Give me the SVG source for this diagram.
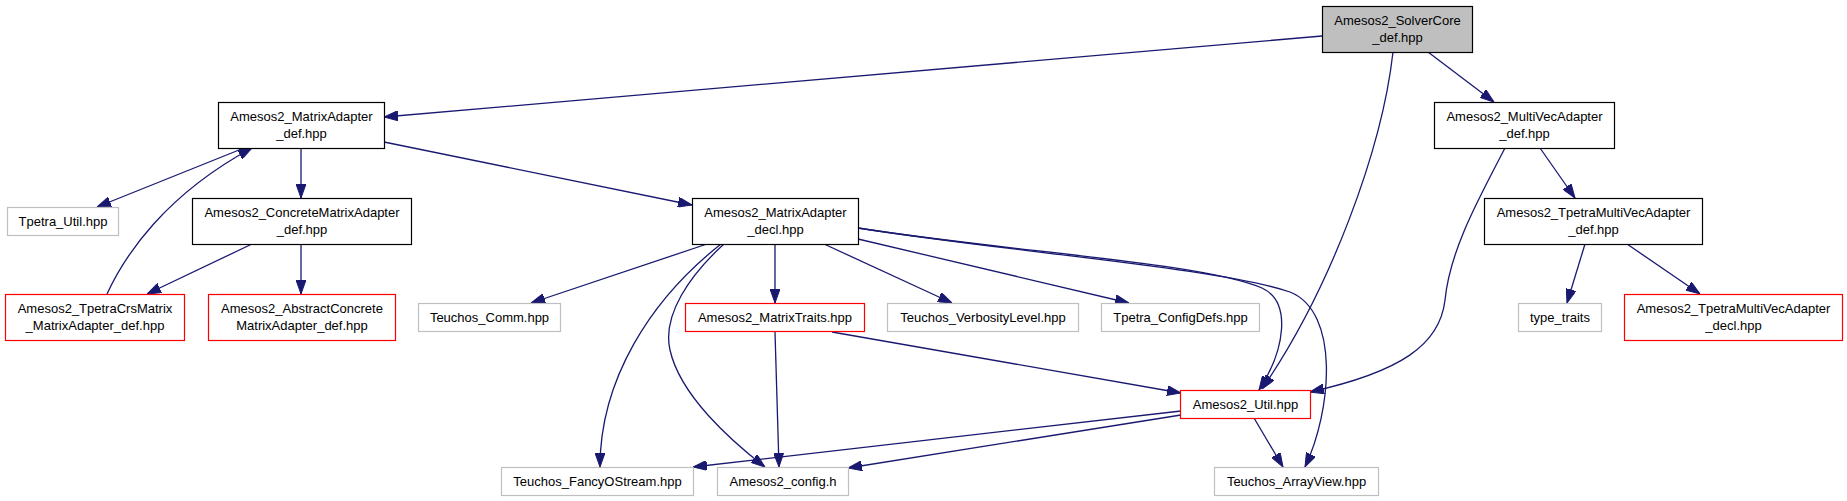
<svg xmlns="http://www.w3.org/2000/svg" width="1847" height="501" viewBox="0 0 1847 501">
<style>
  .n rect { fill: #ffffff; stroke: #000000; stroke-width: 1.2; }
  .n.root rect { fill: #bfbfbf; }
  .n.ext rect { stroke: #bfbfbf; }
  .n.red rect { stroke: #ff0000; }
  .n text { font-family: "Liberation Sans", Arial, sans-serif; font-size: 13px; fill: #000000; text-anchor: middle; }
  #edges path { fill: none; stroke: #191970; stroke-width: 1.3; marker-end: url(#arr); }
</style>
<defs>
  <marker id="arr" markerUnits="userSpaceOnUse" markerWidth="14" markerHeight="10" refX="14" refY="5" orient="auto">
    <path d="M0,0 L14,5 L0,10 z" fill="#191970" stroke="#191970" stroke-width="1"/>
  </marker>
</defs>
<rect x="0" y="0" width="1847" height="501" fill="#ffffff"/>

<g id="edges">
  <path d="M1322,36 L384,117"/>
  <path d="M1393,52 C1382,150 1330,290 1262,389"/>
  <path d="M1428,52 L1494,102"/>
  <path d="M244,148 L97,207"/>
  <path d="M107,294 C125,255 165,195 252,148"/>
  <path d="M301,148 L301,198"/>
  <path d="M384,142 L692,205"/>
  <path d="M252,244 L147,294"/>
  <path d="M301,244 L301,294"/>
  <path d="M707,244 L531,303"/>
  <path d="M775,244 L775,303"/>
  <path d="M824,244 L952,303"/>
  <path d="M858,239 L1129,303"/>
  <path d="M858,228 C1010,252 1200,262 1262,288 C1292,302 1285,350 1259,390"/>
  <path d="M858,228 C1010,252 1220,268 1290,292 C1340,312 1332,410 1305,467"/>
  <path d="M721,244 C650,300 600,380 600,467"/>
  <path d="M724,244 C690,275 662,315 670,350 C680,395 730,440 765,467"/>
  <path d="M775,332 L779,467"/>
  <path d="M832,332 L1181,393"/>
  <path d="M1181,411 L693,467"/>
  <path d="M1181,415 L848,468"/>
  <path d="M1254,418 L1283,467"/>
  <path d="M1505,148 C1478,200 1450,250 1445,300 C1440,345 1400,372 1310,392"/>
  <path d="M1540,148 L1575,198"/>
  <path d="M1585,244 L1567,303"/>
  <path d="M1627,244 L1700,294"/>
</g>

<g id="n_solvercore" class="n root">
  <rect x="1322.5" y="6.5" width="150" height="46"/>
  <text x="1397.5" y="25">Amesos2_SolverCore</text>
  <text x="1397.5" y="41.5">_def.hpp</text>
</g>
<g id="n_matrixadapter_def" class="n">
  <rect x="218.5" y="102.5" width="166" height="46"/>
  <text x="301.5" y="121">Amesos2_MatrixAdapter</text>
  <text x="301.5" y="137.5">_def.hpp</text>
</g>
<g id="n_multivecadapter_def" class="n">
  <rect x="1434.5" y="102.5" width="180" height="46"/>
  <text x="1524.5" y="121">Amesos2_MultiVecAdapter</text>
  <text x="1524.5" y="137.5">_def.hpp</text>
</g>
<g id="n_tpetra_util" class="n ext">
  <rect x="7.5" y="207.5" width="111" height="28"/>
  <text x="63" y="225.5">Tpetra_Util.hpp</text>
</g>
<g id="n_concrete" class="n">
  <rect x="192.5" y="198.5" width="219" height="46"/>
  <text x="302" y="217">Amesos2_ConcreteMatrixAdapter</text>
  <text x="302" y="233.5">_def.hpp</text>
</g>
<g id="n_matrixadapter_decl" class="n">
  <rect x="692.5" y="198.5" width="166" height="46"/>
  <text x="775.5" y="217">Amesos2_MatrixAdapter</text>
  <text x="775.5" y="233.5">_decl.hpp</text>
</g>
<g id="n_tpetramultivec_def" class="n">
  <rect x="1484.5" y="198.5" width="218" height="46"/>
  <text x="1593.5" y="217">Amesos2_TpetraMultiVecAdapter</text>
  <text x="1593.5" y="233.5">_def.hpp</text>
</g>
<g id="n_tpetracrs" class="n red">
  <rect x="5.5" y="294.5" width="179" height="46"/>
  <text x="95" y="313">Amesos2_TpetraCrsMatrix</text>
  <text x="95" y="329.5">_MatrixAdapter_def.hpp</text>
</g>
<g id="n_abstract" class="n red">
  <rect x="208.5" y="294.5" width="187" height="46"/>
  <text x="302" y="313">Amesos2_AbstractConcrete</text>
  <text x="302" y="329.5">MatrixAdapter_def.hpp</text>
</g>
<g id="n_comm" class="n ext">
  <rect x="418.5" y="303.5" width="142" height="28"/>
  <text x="489.5" y="321.5">Teuchos_Comm.hpp</text>
</g>
<g id="n_traits" class="n red">
  <rect x="685.5" y="303.5" width="179" height="28"/>
  <text x="775" y="321.5">Amesos2_MatrixTraits.hpp</text>
</g>
<g id="n_verbosity" class="n ext">
  <rect x="887.5" y="303.5" width="191" height="28"/>
  <text x="983" y="321.5">Teuchos_VerbosityLevel.hpp</text>
</g>
<g id="n_configdefs" class="n ext">
  <rect x="1101.5" y="303.5" width="158" height="28"/>
  <text x="1180.5" y="321.5">Tpetra_ConfigDefs.hpp</text>
</g>
<g id="n_type_traits" class="n ext">
  <rect x="1518.5" y="303.5" width="83" height="28"/>
  <text x="1560" y="321.5">type_traits</text>
</g>
<g id="n_tpetramultivec_decl" class="n red">
  <rect x="1624.5" y="294.5" width="218" height="46"/>
  <text x="1733.5" y="313">Amesos2_TpetraMultiVecAdapter</text>
  <text x="1733.5" y="329.5">_decl.hpp</text>
</g>
<g id="n_util" class="n red">
  <rect x="1180.5" y="390.5" width="130" height="28"/>
  <text x="1245.5" y="408.5">Amesos2_Util.hpp</text>
</g>
<g id="n_fancy" class="n ext">
  <rect x="501.5" y="467.5" width="192" height="28"/>
  <text x="597.5" y="485.5">Teuchos_FancyOStream.hpp</text>
</g>
<g id="n_config" class="n ext">
  <rect x="717.5" y="467.5" width="131" height="28"/>
  <text x="783" y="485.5">Amesos2_config.h</text>
</g>
<g id="n_arrayview" class="n ext">
  <rect x="1214.5" y="467.5" width="164" height="28"/>
  <text x="1296.5" y="485.5">Teuchos_ArrayView.hpp</text>
</g>
</svg>
